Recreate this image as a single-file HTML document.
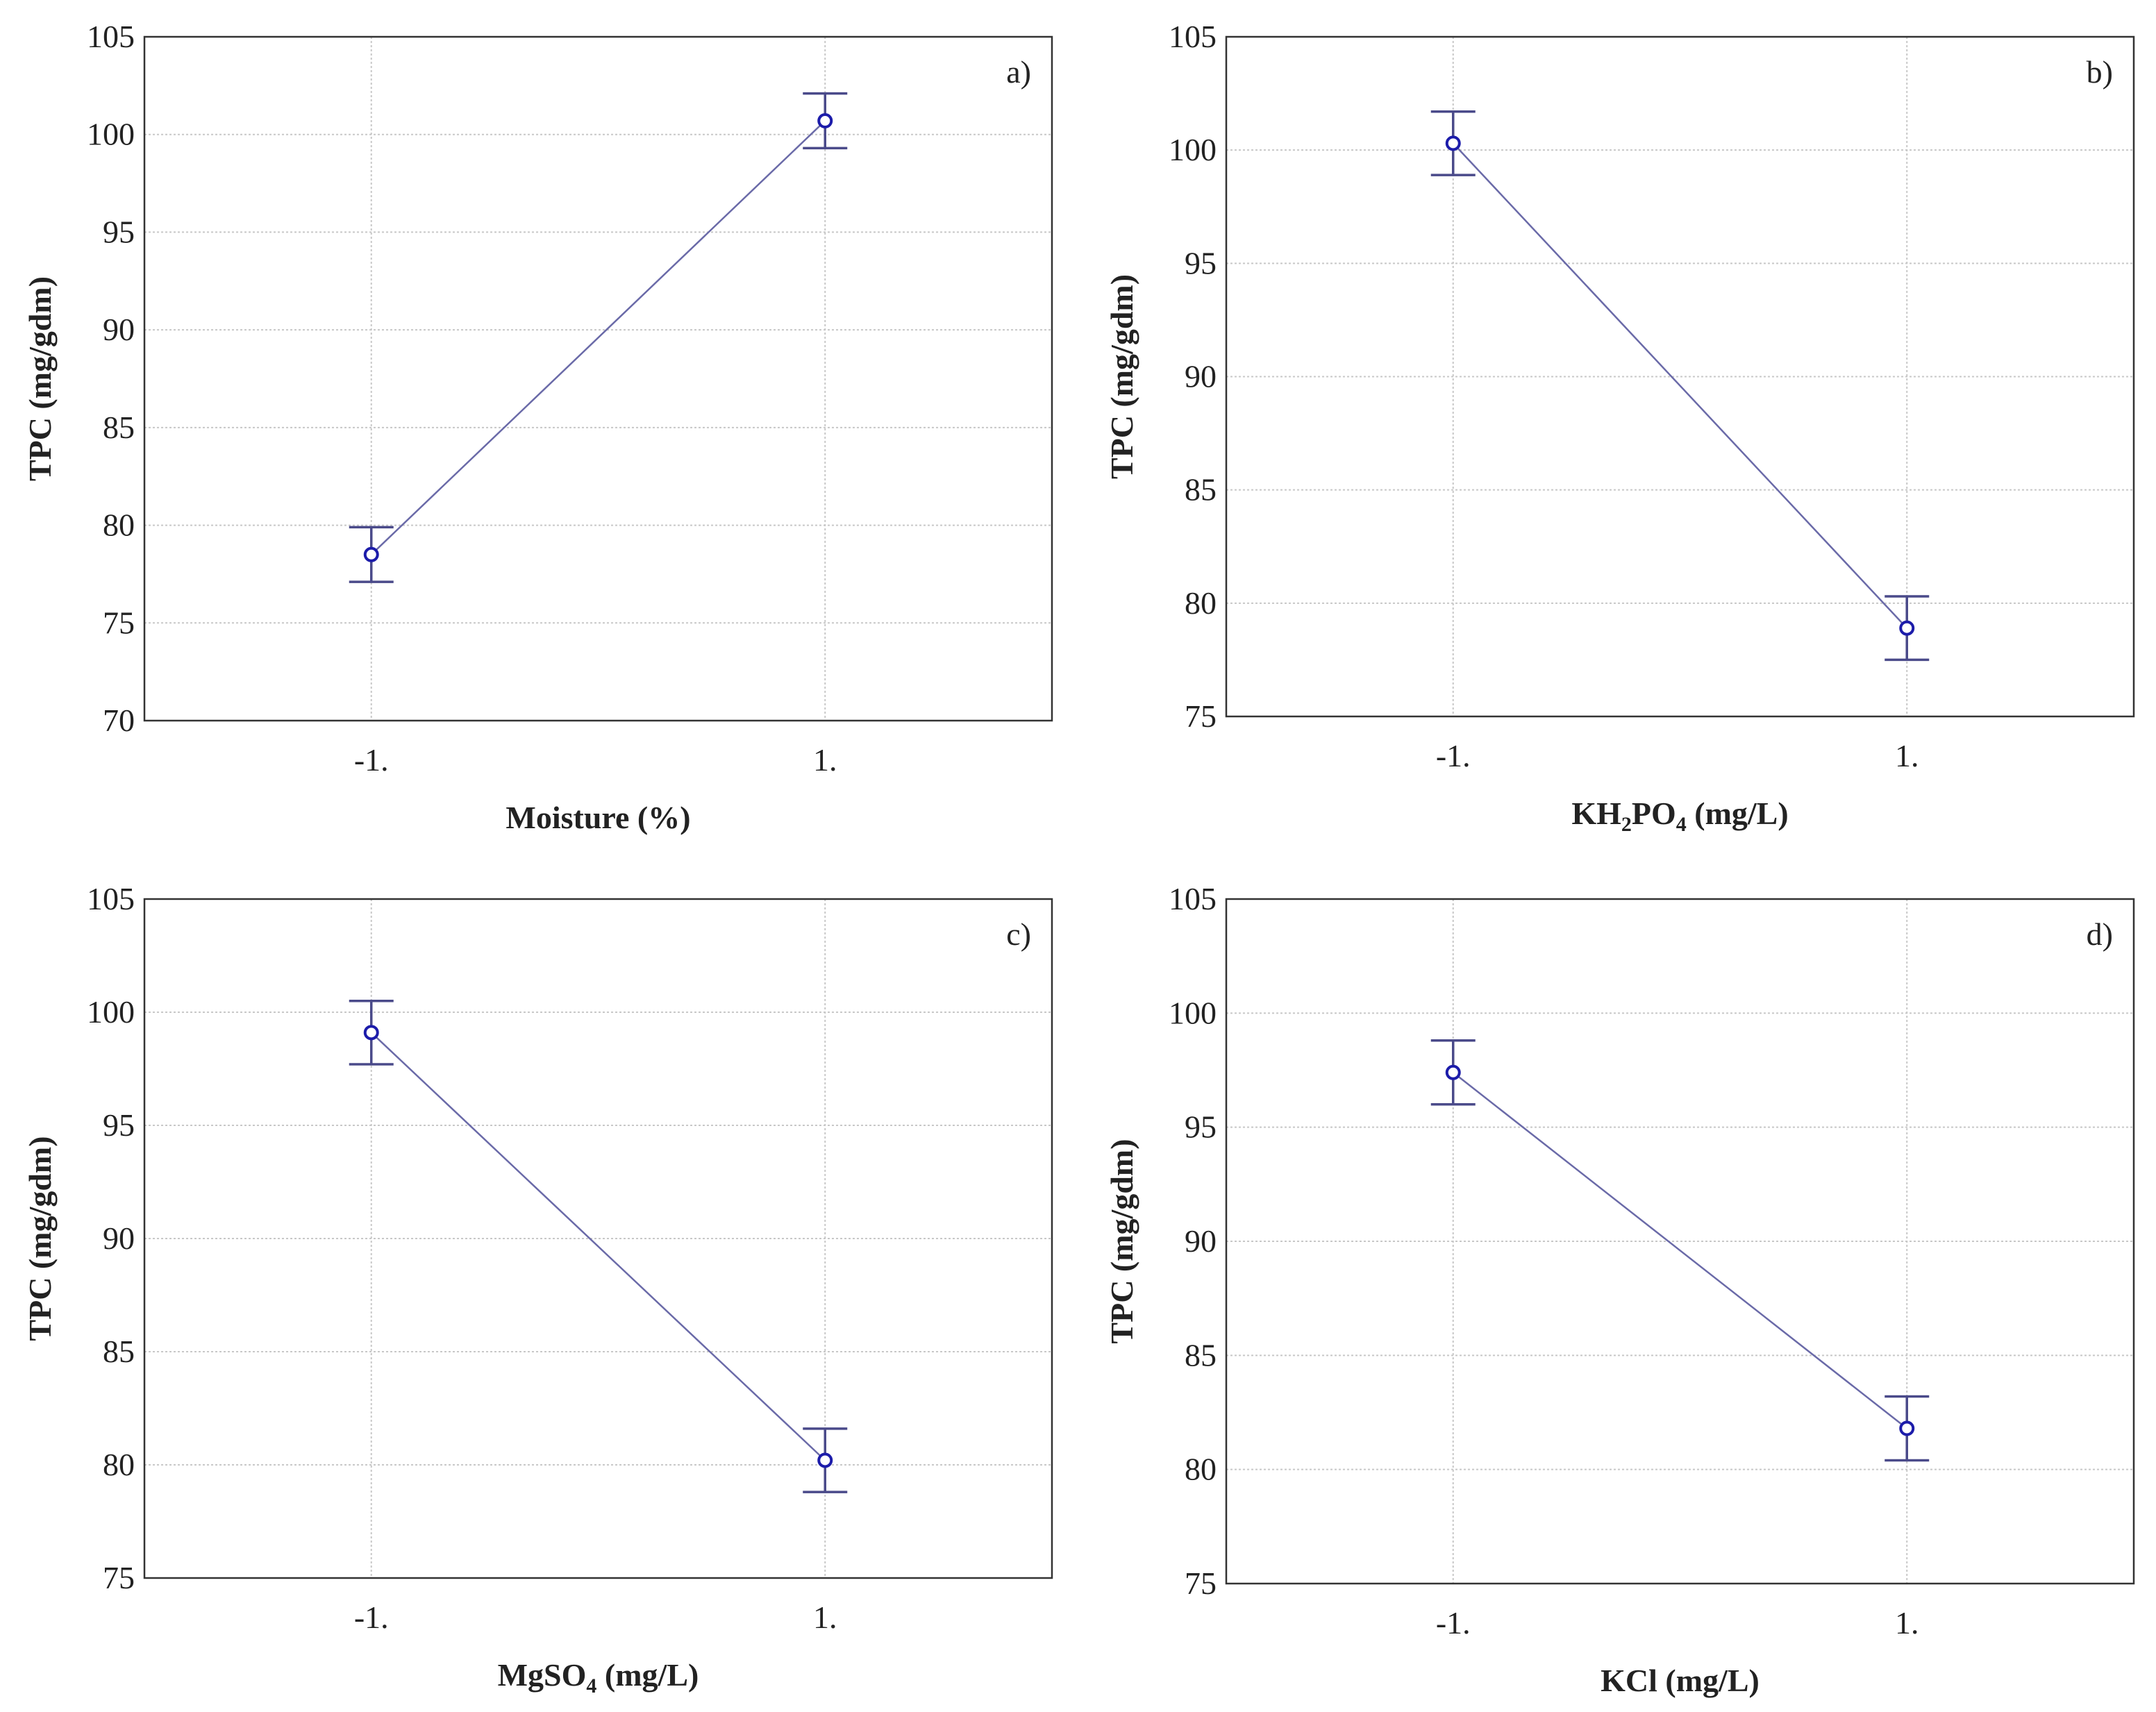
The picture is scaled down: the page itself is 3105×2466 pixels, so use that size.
<!DOCTYPE html>
<html><head><meta charset="utf-8"><style>
html,body{margin:0;padding:0;background:#fff}
svg{display:block}
text{font-family:"Liberation Serif",serif;fill:#222}
</style></head><body>
<svg id="fig" width="3105" height="2466" viewBox="0 0 3105 2466" xmlns="http://www.w3.org/2000/svg"></svg>
<script>
const panelLabels = ["a)","b)","c)","d)"];
const xTitles = ["Moisture (%)","KH2PO4 (mg/L)","MgSO4 (mg/L)","KCl (mg/L)"];
const categories = [-1, 1];
const catLabels = ["-1.","1."];
const meansA = [78.5, 100.7];
const meansB = [100.3, 78.9];
const meansC = [99.1, 80.2];
const meansD = [97.4, 81.8];
const errA = [1.4, 1.4];
const errB = [1.4, 1.4];
const errC = [1.4, 1.4];
const errD = [1.4, 1.4];
const yTicksA = [70,75,80,85,90,95,100,105];
const yTicksB = [75,80,85,90,95,100,105];
const yTicksC = [75,80,85,90,95,100,105];
const yTicksD = [75,80,85,90,95,100,105];

const NS="http://www.w3.org/2000/svg";
const svg=document.getElementById('fig');
function mk(tag,attrs,parent){const e=document.createElementNS(NS,tag);for(const k in attrs)e.setAttribute(k,attrs[k]);(parent||svg).appendChild(e);return e;}

const boxes=[
 {x0:208,x1:1515,y0:53,y1:1038},
 {x0:1766,x1:3073,y0:53,y1:1032},
 {x0:208,x1:1515,y0:1295,y1:2273},
 {x0:1766,x1:3073,y0:1295,y1:2281}
];
const means=[meansA,meansB,meansC,meansD];
const errs=[errA,errB,errC,errD];
const ticks=[yTicksA,yTicksB,yTicksC,yTicksD];
const names=["a","b","c","d"];

boxes.forEach((b,i)=>{
  const g=mk('g',{});
  
  
  const yt=ticks[i];
  const ymin=yt[0], ymax=yt[yt.length-1];
  const ys=v=>b.y1-(v-ymin)/(ymax-ymin)*(b.y1-b.y0);
  const xs=v=>b.x0+(v+2)/4*(b.x1-b.x0);
  yt.forEach(t=>{
    if(t!==ymin&&t!==ymax){
      const l=mk('line',{x1:b.x0,x2:b.x1,y1:ys(t),y2:ys(t),stroke:'#c8c8c8','stroke-width':2,'stroke-dasharray':'3,3'},g);
      
      
    }
    const tx=mk('text',{x:b.x0-14,y:ys(t)+15,'font-size':46,'text-anchor':'end'},g);
    tx.textContent=t;
    
    
  });
  categories.forEach((c,k)=>{
    const l=mk('line',{x1:xs(c),x2:xs(c),y1:b.y0,y2:b.y1,stroke:'#c8c8c8','stroke-width':2,'stroke-dasharray':'3,3'},g);
    
    
    const tx=mk('text',{x:xs(c),y:b.y1+72,'font-size':46,'text-anchor':'middle'},g);
    tx.textContent=catLabels[k];
    
    
  });
  const r=mk('rect',{x:b.x0,y:b.y0,width:b.x1-b.x0,height:b.y1-b.y0,fill:'none',stroke:'#333','stroke-width':2.5},g);
  
  
  const m=means[i], e=errs[i];
  const pts=categories.map((c,k)=>xs(c)+','+ys(m[k])).join(' ');
  const pl=mk('polyline',{points:pts,fill:'none',stroke:'#6a6aa8','stroke-width':2.5},g);
  
  
  categories.forEach((c,k)=>{
    const x=xs(c), yh=ys(m[k]+e[k]), yl=ys(m[k]-e[k]);
    const eb=mk('path',{d:`M${x},${yh}V${yl}M${x-32},${yh}H${x+32}M${x-32},${yl}H${x+32}`,stroke:'#4a4a8a','stroke-width':3.5,fill:'none'},g);
    
    
    const ci=mk('circle',{cx:x,cy:ys(m[k]),r:9,fill:'#fff',stroke:'#1c1caa','stroke-width':4},g);
    
    
  });
  const pl2=mk('text',{x:b.x1-30,y:b.y0+66,'font-size':46,'text-anchor':'end'},g);
  pl2.textContent=panelLabels[i];
  
  
  const cy=(b.y0+b.y1)/2, tx0=b.x0-135;
  const yt2=mk('text',{x:tx0,y:cy,'font-size':46,'font-weight':'bold','text-anchor':'middle',transform:`rotate(-90 ${tx0} ${cy})`},g);
  yt2.textContent='TPC (mg/gdm)';
  
  
  const xt=mk('text',{x:(b.x0+b.x1)/2,y:b.y1+155,'font-size':46,'font-weight':'bold','text-anchor':'middle'},g);
  
  
  const t=xTitles[i];
  const mm=t.match(/^(KH)(2)(PO)(4)(.*)$/)||t.match(/^(MgSO)(4)(.*)$/);
  if(mm){
    mm.slice(1).forEach(part=>{
      const ts=mk('tspan',{},xt);
      if(/^\d$/.test(part)){ts.setAttribute('font-size',30);ts.setAttribute('dy',10);}
      else if(ts.previousSibling&&/^\d$/.test(ts.previousSibling.textContent)){ts.setAttribute('dy',-10);}
      ts.textContent=part;
    });
  } else xt.textContent=t;
});
</script>
</body></html>
